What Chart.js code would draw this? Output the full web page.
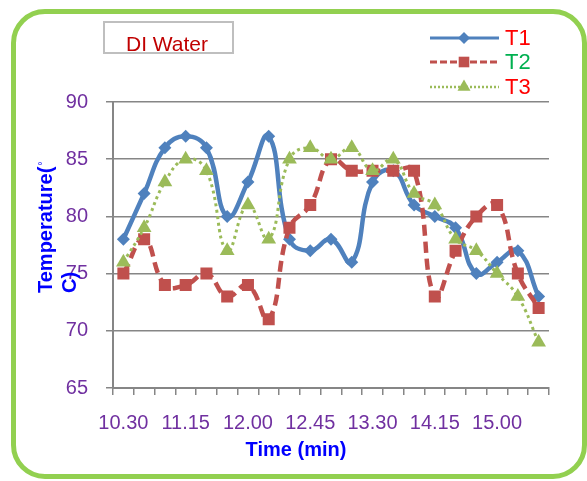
<!DOCTYPE html>
<html>
<head>
<meta charset="utf-8">
<script src="https://cdn.jsdelivr.net/npm/chart.js@4.4.0/dist/chart.umd.min.js"></script>
<style>
  html, body { margin: 0; padding: 0; background: #fff; }
  #wrap { position: relative; width: 587px; height: 481px; overflow: hidden; }
  #moldura { position: absolute; left: 11px; top: 9px; width: 576px; height: 470px; border: 5px solid #92D050; border-radius: 34px; box-sizing: border-box; pointer-events: none; }
  canvas { position: absolute; left: 0; top: 0; }
</style>
</head>
<body>
<div id="wrap">
  <canvas id="grafico" width="587" height="481"></canvas>
  <div id="moldura"></div>
</div>
<script>
const horarios = ['10.30', '10.45', '11.00', '11.15', '11.30', '11.45', '12.00', '12.15', '12.30', '12.45', '13.00',
  '13.15', '13.30', '13.45', '14.00', '14.15', '14.30', '14.45', '15.00', '15.15', '15.30'];
const serieT1 = [78, 82, 86, 87, 86, 80, 83, 87, 78, 77, 78, 76, 83, 84, 81, 80, 79, 75, 76, 77, 73];
const serieT2 = [75, 78, 74, 74, 75, 73, 74, 71, 79, 81, 85, 84, 84, 84, 84, 73, 77, 80, 81, 75, 72];
const serieT3 = [76, 79, 83, 85, 84, 77, 81, 78, 85, 86, 85, 86, 84, 85, 82, 81, 78, 77, 75, 73, 69];
const ticksY = [65, 70, 75, 80, 85, 90];
const nomes = ['T1', 'T2', 'T3'];
const corNomes = ['#FF0000', '#00B050', '#FF0000'];
const titulo = 'DI Water';
const tituloX = 'Time (min)';
const tituloY = ['Temperature(', 'C)'];

const fonte = '"Liberation Sans", Arial, sans-serif';
const roxo = '#7030A0';
const cinza = '#868686';

const estilos = [
  { cor: '#4F81BD', ponto: 'rectRot', raio: 6.5, dash: [], largura: 4.5 },
  { cor: '#C0504D', ponto: 'rect', raio: 8.5, dash: [11, 6], largura: 4.5 },
  { cor: '#9BBB59', ponto: 'triangle', raio: 8.5, dash: [3, 3.5], largura: 3 }
];

const serie = (label, data, e, ordem) => ({
  label, data,
  borderColor: e.cor,
  backgroundColor: e.cor,
  borderWidth: e.largura,
  borderDash: e.dash,
  pointStyle: e.ponto,
  pointRadius: e.raio,
  pointBorderWidth: 0,
  pointBackgroundColor: e.cor,
  tension: 0.45,
  fill: false,
  order: ordem
});

// caixa do titulo, legenda e titulos dos eixos
const extras = {
  id: 'extras',
  afterDraw(chart) {
    const ctx = chart.ctx;
    ctx.save();

    ctx.strokeStyle = '#BFBFBF';
    ctx.lineWidth = 2;
    ctx.strokeRect(104, 22, 129, 31);
    ctx.fillStyle = '#C00000';
    ctx.font = '21px ' + fonte;
    ctx.textAlign = 'center';
    ctx.textBaseline = 'alphabetic';
    ctx.fillText(titulo, 167, 51);

    const linhasY = [38, 62, 87];
    estilos.forEach((e, i) => {
      const y = linhasY[i];
      ctx.save();
      ctx.strokeStyle = e.cor;
      ctx.lineWidth = i === 2 ? 2.5 : 3;
      ctx.setLineDash(i === 1 ? [7, 3] : i === 2 ? [2, 2] : []);
      ctx.beginPath();
      ctx.moveTo(430, y);
      ctx.lineTo(499, y);
      ctx.stroke();
      ctx.restore();
      ctx.fillStyle = e.cor;
      Chart.helpers.drawPoint(ctx, { pointStyle: e.ponto, radius: i === 0 ? 6 : 7.5, rotation: 0, borderWidth: 0 }, 464, y);
      ctx.fillStyle = corNomes[i];
      ctx.font = '22px ' + fonte;
      ctx.textAlign = 'left';
      ctx.textBaseline = 'middle';
      ctx.fillText(nomes[i], 505, y + 1);
    });

    ctx.fillStyle = '#0000FF';
    ctx.font = 'bold 20px ' + fonte;
    ctx.textAlign = 'center';
    ctx.textBaseline = 'alphabetic';
    ctx.fillText(tituloX, 296, 456);

    ctx.translate(0, 293);
    ctx.rotate(-Math.PI / 2);
    ctx.textAlign = 'left';
    ctx.fillText(tituloY[0], 0, 52);
    const w = ctx.measureText(tituloY[0]).width;
    ctx.font = '11px ' + fonte;
    ctx.fillText('°', w + 1, 46);
    ctx.font = 'bold 20px ' + fonte;
    ctx.fillText(tituloY[1], 0, 76);

    ctx.restore();
  }
};

new Chart(document.getElementById('grafico'), {
  type: 'line',
  data: {
    labels: horarios,
    datasets: [
      serie(nomes[0], serieT1, estilos[0], 2),
      serie(nomes[1], serieT2, estilos[1], 1),
      serie(nomes[2], serieT3, estilos[2], 0)
    ]
  },
  options: {
    responsive: false,
    devicePixelRatio: 1,
    animation: false,
    layout: { padding: { left: 0, top: 102, right: 38, bottom: 0 } },
    plugins: {
      legend: { display: false },
      tooltip: { enabled: false },
      title: { display: false }
    },
    scales: {
      x: {
        offset: true,
        afterFit: s => { s.height = 93; },
        grid: { offset: true, drawOnChartArea: false, drawTicks: true, tickLength: 7, color: cinza, lineWidth: 1.5 },
        border: { display: true, color: cinza, width: 2 },
        ticks: {
          autoSkip: false,
          maxRotation: 0,
          padding: 16,
          color: roxo,
          font: { family: fonte, size: 20 },
          callback: function (v, i) { return i % 3 === 0 ? this.getLabelForValue(v) : ''; }
        }
      },
      y: {
        min: 65,
        max: 90,
        afterFit: s => { s.width = 113; },
        afterBuildTicks: s => { s.ticks = ticksY.map(v => ({ value: v })); },
        grid: { color: cinza, lineWidth: 1.5, drawTicks: true, tickLength: 7 },
        border: { display: true, color: cinza, width: 2 },
        ticks: { padding: 18, color: roxo, font: { family: fonte, size: 20 } }
      }
    }
  },
  plugins: [extras]
});
</script>
</body>
</html>
